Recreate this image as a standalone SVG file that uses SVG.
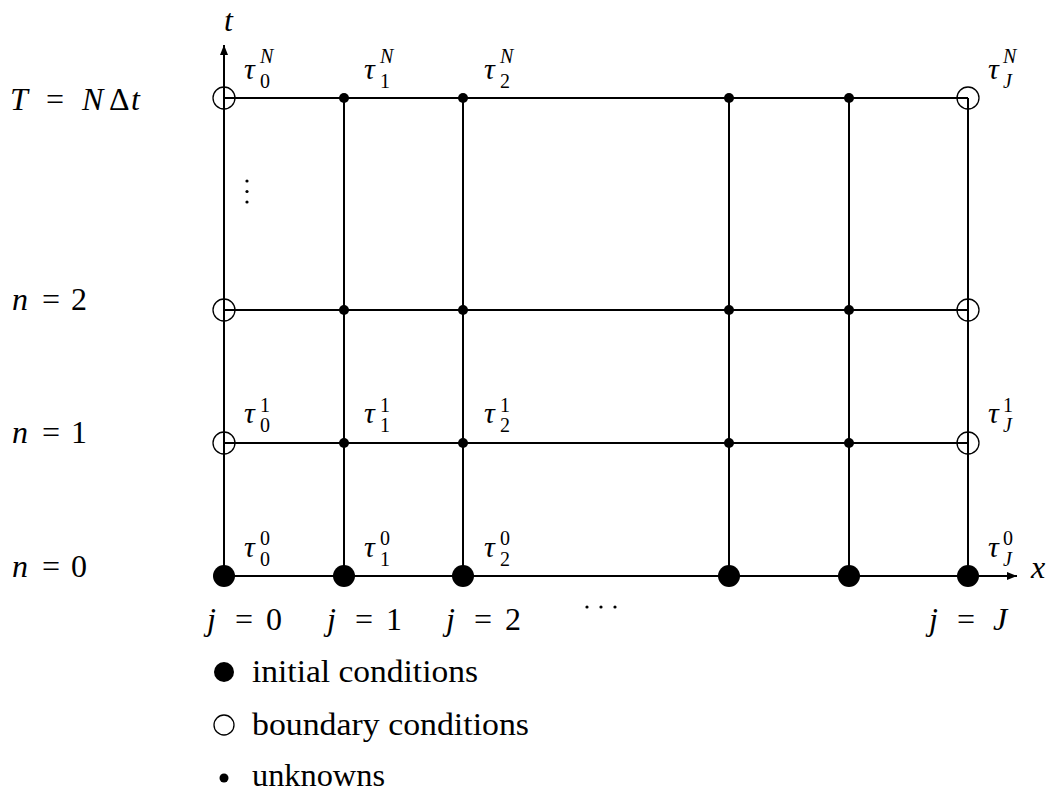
<svg xmlns="http://www.w3.org/2000/svg" width="1052" height="792" viewBox="0 0 1052 792">
<style>
.ln{stroke:#000;stroke-width:2;fill:none}
.big{fill:#000}
.open{fill:none;stroke:#000;stroke-width:1.3}
.dot{fill:#000}
.m{font-size:32px}
.i{font-style:italic}
.tau{font-size:30px;font-style:italic}
.sc{font-size:20px}
.leg{font-size:31px}
</style>
<defs>
<marker id="arr" viewBox="0 0 10 8" refX="10" refY="4" markerWidth="10" markerHeight="8" markerUnits="userSpaceOnUse" orient="auto">
<path d="M0,0 L10,4 L0,8 Z" fill="#000"/>
</marker>
</defs>
<rect width="1052" height="792" fill="#fff"/>
<g id="connectors">
<line class="ln" x1="224" y1="576" x2="1017" y2="576" marker-end="url(#arr)"/>
<line class="ln" x1="224" y1="576" x2="224" y2="45" marker-end="url(#arr)"/>
<line class="ln" x1="224" y1="98" x2="968" y2="98"/>
<line class="ln" x1="224" y1="310" x2="968" y2="310"/>
<line class="ln" x1="224" y1="443" x2="968" y2="443"/>
<line class="ln" x1="344" y1="98" x2="344" y2="576"/>
<line class="ln" x1="463" y1="98" x2="463" y2="576"/>
<line class="ln" x1="729" y1="98" x2="729" y2="576"/>
<line class="ln" x1="849" y1="98" x2="849" y2="576"/>
<line class="ln" x1="968" y1="98" x2="968" y2="576"/>
</g>
<g id="initial-nodes">
<circle class="big" cx="224" cy="576" r="11"/>
<circle class="big" cx="344" cy="576" r="11"/>
<circle class="big" cx="463" cy="576" r="11"/>
<circle class="big" cx="729" cy="576" r="11"/>
<circle class="big" cx="849" cy="576" r="11"/>
<circle class="big" cx="968" cy="576" r="11"/>
</g>
<g id="boundary-nodes">
<circle class="open" cx="224" cy="98" r="11"/>
<circle class="open" cx="224" cy="310" r="11"/>
<circle class="open" cx="224" cy="443" r="11"/>
<circle class="open" cx="968" cy="98" r="11"/>
<circle class="open" cx="968" cy="310" r="11"/>
<circle class="open" cx="968" cy="443" r="11"/>
</g>
<g id="unknown-nodes">
<circle class="dot" cx="344" cy="98" r="5"/>
<circle class="dot" cx="463" cy="98" r="5"/>
<circle class="dot" cx="729" cy="98" r="5"/>
<circle class="dot" cx="849" cy="98" r="5"/>
<circle class="dot" cx="344" cy="310" r="5"/>
<circle class="dot" cx="463" cy="310" r="5"/>
<circle class="dot" cx="729" cy="310" r="5"/>
<circle class="dot" cx="849" cy="310" r="5"/>
<circle class="dot" cx="344" cy="443" r="5"/>
<circle class="dot" cx="463" cy="443" r="5"/>
<circle class="dot" cx="729" cy="443" r="5"/>
<circle class="dot" cx="849" cy="443" r="5"/>
</g>
<g id="ellipsis">
<circle class="dot" cx="247" cy="181" r="1.6"/>
<circle class="dot" cx="247" cy="191.5" r="1.6"/>
<circle class="dot" cx="247" cy="202" r="1.6"/>
<circle class="dot" cx="587" cy="607" r="1.6"/>
<circle class="dot" cx="601" cy="607" r="1.6"/>
<circle class="dot" cx="615" cy="607" r="1.6"/>
</g>
<g font-family="Liberation Serif, Times New Roman, DejaVu Serif, serif" fill="#000">
<g id="axis-labels">
<text class="m i" x="224" y="31">t</text>
<text class="m i" x="1031" y="578">x</text>
</g>
<g id="row-labels">
<text class="m" y="110"><tspan class="i" x="10">T</tspan><tspan x="46">=</tspan><tspan class="i" x="82">N</tspan><tspan x="109">Δ</tspan><tspan class="i" x="131">t</tspan></text>
<text class="m" y="310"><tspan class="i" x="12">n</tspan><tspan x="42">=</tspan><tspan x="71">2</tspan></text>
<text class="m" y="443"><tspan class="i" x="12">n</tspan><tspan x="42">=</tspan><tspan x="71">1</tspan></text>
<text class="m" y="577"><tspan class="i" x="12">n</tspan><tspan x="42">=</tspan><tspan x="71">0</tspan></text>
</g>
<g id="col-labels">
<text class="m" y="630"><tspan class="i" x="207">j</tspan><tspan x="235">=</tspan><tspan x="266">0</tspan></text>
<text class="m" y="630"><tspan class="i" x="327">j</tspan><tspan x="355">=</tspan><tspan x="386">1</tspan></text>
<text class="m" y="630"><tspan class="i" x="446">j</tspan><tspan x="474">=</tspan><tspan x="505">2</tspan></text>
<text class="m" y="630"><tspan class="i" x="929">j</tspan><tspan x="957">=</tspan><tspan class="i" x="993">J</tspan></text>
</g>
<g id="tau-labels">
<g id="tau-0-N"><text class="tau" x="244" y="79">τ</text><text class="sc i" x="260" y="63">N</text><text class="sc" x="260" y="88">0</text></g>
<g id="tau-1-N"><text class="tau" x="364" y="79">τ</text><text class="sc i" x="380" y="63">N</text><text class="sc" x="380" y="88">1</text></g>
<g id="tau-2-N"><text class="tau" x="484" y="79">τ</text><text class="sc i" x="500" y="63">N</text><text class="sc" x="500" y="88">2</text></g>
<g id="tau-J-N"><text class="tau" x="988" y="79">τ</text><text class="sc i" x="1003" y="63">N</text><text class="sc i" x="1003" y="88">J</text></g>
<g id="tau-0-1"><text class="tau" x="244" y="423">τ</text><text class="sc" x="260" y="412">1</text><text class="sc" x="260" y="432">0</text></g>
<g id="tau-1-1"><text class="tau" x="364" y="423">τ</text><text class="sc" x="380" y="412">1</text><text class="sc" x="380" y="432">1</text></g>
<g id="tau-2-1"><text class="tau" x="484" y="423">τ</text><text class="sc" x="500" y="412">1</text><text class="sc" x="500" y="432">2</text></g>
<g id="tau-J-1"><text class="tau" x="988" y="423">τ</text><text class="sc" x="1003" y="412">1</text><text class="sc i" x="1003" y="432">J</text></g>
<g id="tau-0-0"><text class="tau" x="244" y="557">τ</text><text class="sc" x="260" y="545">0</text><text class="sc" x="260" y="566">0</text></g>
<g id="tau-1-0"><text class="tau" x="364" y="557">τ</text><text class="sc" x="380" y="545">0</text><text class="sc" x="380" y="566">1</text></g>
<g id="tau-2-0"><text class="tau" x="484" y="557">τ</text><text class="sc" x="500" y="545">0</text><text class="sc" x="500" y="566">2</text></g>
<g id="tau-J-0"><text class="tau" x="988" y="557">τ</text><text class="sc" x="1003" y="545">0</text><text class="sc i" x="1003" y="566">J</text></g>
</g>
<g id="legend">
<text class="leg" x="252" y="682" textLength="226" lengthAdjust="spacingAndGlyphs">initial conditions</text>
<text class="leg" x="252" y="735" textLength="277" lengthAdjust="spacingAndGlyphs">boundary conditions</text>
<text class="leg" x="252" y="786" textLength="133" lengthAdjust="spacingAndGlyphs">unknowns</text>
</g>
</g>
<g id="legend-symbols">
<circle class="big" cx="224" cy="672" r="10"/>
<circle class="open" cx="224" cy="725" r="10"/>
<circle class="dot" cx="224" cy="778" r="4.5"/>
</g>
</svg>
